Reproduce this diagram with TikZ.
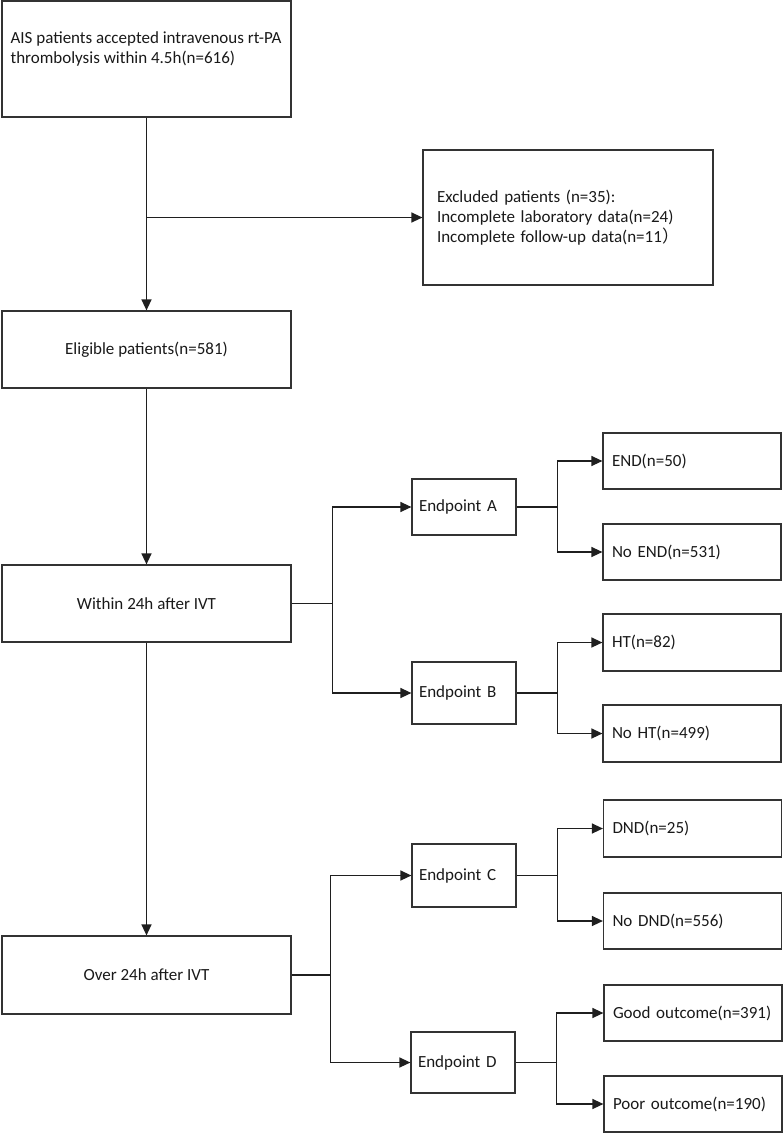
\documentclass[tikz,border=0pt]{standalone}
\usepackage{fontspec}
\setmainfont{Carlito}
\newfontfamily\cjk{Noto Sans CJK SC}
\usetikzlibrary{arrows.meta}
\tikzset{
	box/.style={draw=black!80,line width=1.2pt,rectangle,inner ysep=0pt,
		font=\fontsize{17}{20}\selectfont,text=black!90},
	midbox/.style={box,minimum width=289pt,minimum height=77pt,align=center},
	epbox/.style={box,inner xsep=7pt,text width=90pt,align=left,minimum height=61pt},
	resbox/.style={box,inner xsep=9pt,text width=160pt,align=left,minimum height=56pt},
	link/.style={line width=1.3pt,draw=black!88},
}
\begin{document}
\begin{tikzpicture}[>={Triangle[length=11pt,width=10pt]},x=1pt,y=-1pt]
	\useasboundingbox (0,0) rectangle (783,1133);
	% left column
	\node[box,minimum width=289pt,minimum height=116pt] (start) at (146.5,59) {};
	\node[box,draw=none,anchor=west,align=left,inner xsep=0pt] (starttxt) at (10,49)
		{AIS patients accepted intravenous rt-PA\\thrombolysis within 4.5h(n=616)};
	\node[box,inner xsep=14pt,text width=262pt,align=left,minimum height=135pt] (excl) at (568,217.5)
		{Excluded patients (n=35):\\Incomplete laboratory data(n=24)\\Incomplete follow-up data(n=11{\cjk ）}};
	\node[midbox] (elig) at (146.5,349.5) {Eligible patients(n=581)};
	\node[midbox] (within) at (146.5,603.5) {Within 24h after IVT};
	\node[midbox,minimum height=78pt] (over) at (146.5,975) {Over 24h after IVT};
	% endpoints
	\node[epbox,minimum height=56pt] (epa) at (464,507) {Endpoint A};
	\node[epbox,minimum height=62pt] (epb) at (464,693) {Endpoint B};
	\node[epbox,minimum height=63pt] (epc) at (464,875.5) {Endpoint C};
	\node[epbox] (epd) at (463,1062.5) {Endpoint D};
	% results
	\node[resbox] (endy) at (692,461) {END(n=50)};
	\node[resbox] (endn) at (692,552) {No END(n=531)};
	\node[resbox,minimum height=57pt] (hty) at (692,642.5) {HT(n=82)};
	\node[resbox,minimum height=57pt] (htn) at (692,733.5) {No HT(n=499)};
	\node[resbox,minimum height=57pt] (dndy) at (692.5,828.5) {DND(n=25)};
	\node[resbox] (dndn) at (692.5,921) {No DND(n=556)};
	\node[resbox] (goody) at (693,1013) {Good outcome(n=391)};
	\node[resbox] (poorn) at (693,1104) {Poor outcome(n=190)};

	\draw[link,->] (start) -- (elig);
	\draw[link,->] (start.south |- excl.west) -- (excl.west);
	\draw[link,->] (elig) -- (within);
	\draw[link,->] (within) -- (over);
	\draw[link,->] (within.east) -- ++(41,0) coordinate (jw) |- (epa.west);
	\draw[link,->] (jw) |- (epb.west);
	\draw[link,->] (over.east) -- ++(39,0) coordinate (jo) |- (epc.west);
	\draw[link,->] (jo) |- (epd.west);
	\draw[link,->] (epa.east) -- ++(41,0) coordinate (ja) |- (endy.west);
	\draw[link,->] (ja) |- (endn.west);
	\draw[link,->] (epb.east) -- ++(41,0) coordinate (jb) |- (hty.west);
	\draw[link,->] (jb) |- (htn.west);
	\draw[link,->] (epc.east) -- ++(41,0) coordinate (jc) |- (dndy.west);
	\draw[link,->] (jc) |- (dndn.west);
	\draw[link,->] (epd.east) -- ++(41,0) coordinate (jd) |- (goody.west);
	\draw[link,->] (jd) |- (poorn.west);
\end{tikzpicture}
\end{document}
